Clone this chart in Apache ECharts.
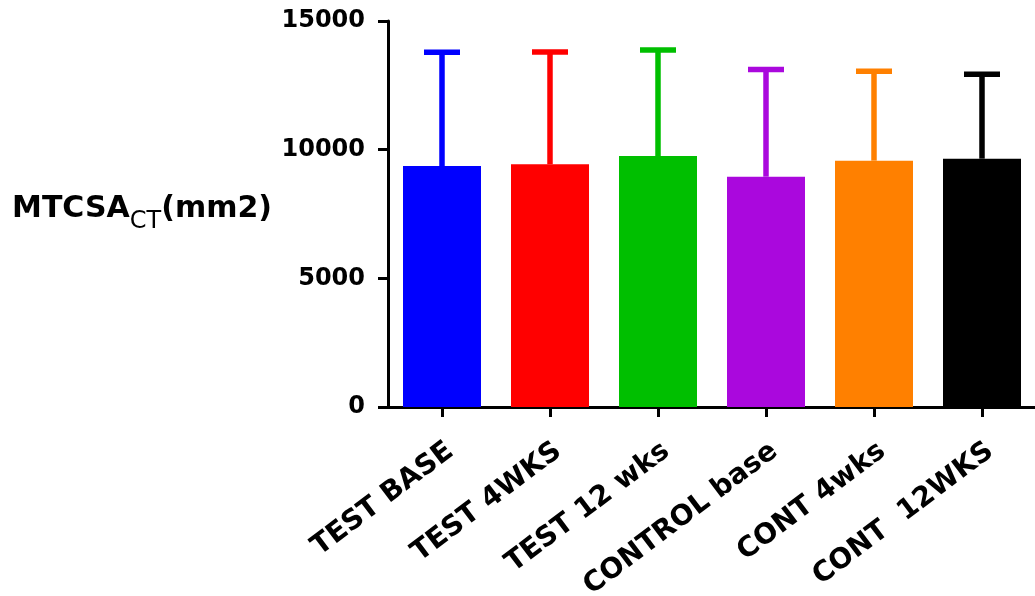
<!DOCTYPE html>
<html>
<head>
<meta charset="utf-8">
<script src="https://cdn.jsdelivr.net/npm/echarts@6/dist/echarts.min.js"></script>
<style>
  html, body { margin: 0; padding: 0; background: #fff; }
  #chart { width: 1035px; height: 596px; }
</style>
</head>
<body>
<div id="chart"></div>
<script>
const categories = ['TEST BASE', 'TEST 4WKS', 'TEST 12 wks', 'CONTROL base', 'CONT 4wks', 'CONT  12WKS'];
const means = [9365, 9431, 9754, 8950, 9572, 9650];
const sdUpper = [4423, 4364, 4119, 4165, 3477, 3283];
const colors = ['#0000FF', '#FF0000', '#00BF00', '#AA08DD', '#FF8000', '#000000'];
const yTicks = [0, 5000, 10000, 15000];

const chart = echarts.init(document.getElementById('chart'));
const FONT = 'DejaVu Sans';

const errData = categories.map((c, i) => [i, means[i], means[i] + sdUpper[i]]);

chart.setOption({
  animation: false,
  backgroundColor: '#fff',
  grid: { left: 388, top: 21, width: 648, bottom: 189, containLabel: false, outerBoundsMode: 'none' },
  xAxis: {
    type: 'category',
    data: categories,
    axisLine: { show: true, lineStyle: { color: '#000', width: 3 } },
    axisTick: { show: true, alignWithLabel: true, length: 10, lineStyle: { color: '#000', width: 3 } },
    axisLabel: {
      interval: 0, rotate: 37, margin: 30, align: 'right', verticalAlign: 'top',
      color: '#000', fontFamily: FONT, fontWeight: 'bold', fontSize: 28
    },
    splitLine: { show: false }
  },
  yAxis: {
    type: 'value',
    min: yTicks[0], max: yTicks[yTicks.length - 1], interval: 5000,
    name: '{a|MTCSA}{b|CT}{a|(mm2)}',
    nameLocation: 'middle',
    nameRotate: 0,
    nameGap: 116,
    nameTextStyle: {
      align: 'right',
      rich: {
        a: { fontFamily: FONT, fontWeight: 'bold', fontSize: 30, color: '#000', verticalAlign: 'bottom', padding: [0, 0, 10, 0] },
        b: { fontFamily: FONT, fontWeight: 'normal', fontSize: 24, color: '#000', verticalAlign: 'bottom' }
      }
    },
    axisLine: { show: true, lineStyle: { color: '#000', width: 3 } },
    axisTick: { show: true, length: 10, lineStyle: { color: '#000', width: 3 } },
    axisLabel: {
      margin: 23, color: '#000', fontFamily: FONT, fontWeight: 'bold', fontSize: 24,
      formatter: function (v) { return String(v); }
    },
    splitLine: { show: false }
  },
  series: [
    {
      type: 'bar',
      barWidth: 78,
      data: means.map((v, i) => ({ value: v, itemStyle: { color: colors[i] } })),
      z: 2
    },
    {
      type: 'custom',
      data: errData,
      encode: { x: 0, y: [1, 2] },
      z: 3,
      renderItem: function (params, api) {
        const i = api.value(0);
        const base = api.coord([i, api.value(1)]);
        const top = api.coord([i, api.value(2)]);
        const half = 18;
        const style = { stroke: colors[i], lineWidth: 5.5, lineCap: 'butt' };
        return {
          type: 'group',
          children: [
            { type: 'line', shape: { x1: base[0], y1: base[1], x2: top[0], y2: top[1] }, style: style },
            { type: 'line', shape: { x1: top[0] - half, y1: top[1], x2: top[0] + half, y2: top[1] }, style: style }
          ]
        };
      }
    }
  ]
});
</script>
</body>
</html>
